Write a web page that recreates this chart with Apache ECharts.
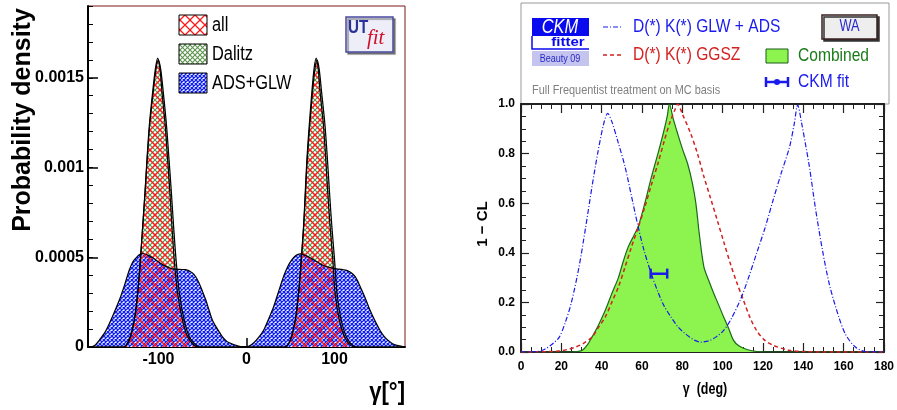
<!DOCTYPE html>
<html lang="en">
<head>
    <meta charset="utf-8">
    <title>gamma: UTfit / CKMfitter</title>
    <script src="https://cdn.jsdelivr.net/npm/echarts@6.0.0/dist/echarts.min.js"></script>
    <style>
        html, body { margin: 0; padding: 0; background: #fff; }
        #chart { width: 897px; height: 410px; }
    </style>
</head>
<body>
<div id="chart"></div>
<script type="text/javascript">
    // ---- left panel: UTfit probability density of gamma [deg] ----
    var leftXTicks = [-100, 0, 100];
    var leftYTicks = [0, 0.0005, 0.001, 0.0015];
    var leftYLabels = ['0', '0.0005', '0.001', '0.0015'];

    var allPdf = [
        [-180, 0], [-140, 0], [-133, 0.039e-3], [-127.3, 0.151e-3], [-123.5, 0.30e-3],
        [-120.5, 0.487e-3], [-117.9, 0.674e-3], [-115.3, 0.861e-3], [-113, 1.047e-3],
        [-110.4, 1.233e-3], [-106.6, 1.42e-3], [-103.5, 1.55e-3], [-100.9, 1.61e-3],
        [-98.3, 1.55e-3], [-96, 1.42e-3], [-92.3, 1.233e-3], [-89.6, 1.047e-3],
        [-87, 0.861e-3], [-84.7, 0.674e-3], [-82.1, 0.487e-3], [-78.3, 0.30e-3],
        [-72.7, 0.151e-3], [-67, 0.058e-3], [-59.5, 0.01e-3], [-55, 0],
        [44, 0], [49.7, 0.039e-3], [55.4, 0.151e-3], [59.1, 0.30e-3], [62.1, 0.487e-3],
        [64.8, 0.674e-3], [66.7, 0.861e-3], [68.6, 1.047e-3], [71.2, 1.233e-3],
        [74.2, 1.42e-3], [76.7, 1.55e-3], [79.1, 1.61e-3], [81.4, 1.55e-3],
        [83.6, 1.42e-3], [87.4, 1.233e-3], [90, 1.047e-3], [92.3, 0.861e-3],
        [94.9, 0.674e-3], [98, 0.487e-3], [100.6, 0.30e-3], [105.4, 0.151e-3],
        [111.9, 0.05e-3], [119.4, 0.005e-3], [125, 0], [180, 0]
    ];
    var dalitzPdf = [
        [-180, 0], [-140, 0], [-133.5, 0.04e-3], [-127.5, 0.15e-3], [-123.6, 0.30e-3],
        [-120.5, 0.487e-3], [-117.8, 0.674e-3], [-115.2, 0.861e-3], [-112.8, 1.047e-3],
        [-110, 1.233e-3], [-106, 1.42e-3], [-103, 1.54e-3], [-100.3, 1.60e-3],
        [-97.5, 1.55e-3], [-94.5, 1.42e-3], [-90.8, 1.233e-3], [-88, 1.047e-3],
        [-85.3, 0.861e-3], [-82.8, 0.674e-3], [-80, 0.487e-3], [-76.2, 0.30e-3],
        [-70.8, 0.151e-3], [-65, 0.058e-3], [-57.5, 0.01e-3], [-52, 0],
        [44, 0], [49.8, 0.04e-3], [55.5, 0.151e-3], [59.2, 0.30e-3], [62.3, 0.487e-3],
        [65, 0.674e-3], [67, 0.861e-3], [69, 1.047e-3], [71.8, 1.233e-3],
        [75, 1.42e-3], [77.5, 1.54e-3], [80, 1.60e-3], [82.5, 1.55e-3],
        [85.3, 1.42e-3], [89.2, 1.233e-3], [91.9, 1.047e-3], [94.3, 0.861e-3],
        [96.9, 0.674e-3], [100, 0.487e-3], [102.8, 0.30e-3], [107.5, 0.151e-3],
        [114, 0.05e-3], [121.5, 0.005e-3], [127, 0], [180, 0]
    ];
    var adsGlwPdf = [
        [-180, 0], [-178, 0], [-172, 0.01e-3], [-167, 0.039e-3], [-161, 0.08e-3],
        [-155.6, 0.133e-3], [-150, 0.195e-3], [-144.3, 0.263e-3], [-138.5, 0.345e-3],
        [-133, 0.43e-3], [-129, 0.475e-3], [-125.4, 0.497e-3], [-121.5, 0.515e-3],
        [-117.9, 0.521e-3], [-112, 0.512e-3], [-106.6, 0.497e-3], [-101, 0.478e-3],
        [-95.3, 0.459e-3], [-89.5, 0.445e-3], [-84, 0.435e-3], [-76, 0.432e-3],
        [-69, 0.431e-3], [-61.4, 0.413e-3], [-57.5, 0.39e-3], [-53.9, 0.357e-3],
        [-50, 0.31e-3], [-46.3, 0.263e-3], [-42.5, 0.205e-3], [-38.8, 0.151e-3],
        [-33, 0.10e-3], [-27.5, 0.058e-3], [-22, 0.03e-3], [-16.2, 0.017e-3],
        [-10, 0.006e-3], [-4.9, 0], [0, 0],
        [3, 0.005e-3], [8.3, 0.024e-3], [14, 0.055e-3], [19.6, 0.095e-3], [25, 0.155e-3],
        [30.9, 0.226e-3], [36.5, 0.31e-3], [42.2, 0.394e-3], [47, 0.45e-3],
        [51.6, 0.487e-3], [56, 0.51e-3], [61, 0.519e-3], [66, 0.512e-3],
        [72.3, 0.497e-3], [80, 0.475e-3], [87.4, 0.454e-3], [95, 0.442e-3],
        [102.4, 0.435e-3], [108, 0.432e-3], [113.8, 0.427e-3], [118.5, 0.415e-3],
        [123.2, 0.394e-3], [127, 0.36e-3], [130.7, 0.319e-3], [135.5, 0.265e-3],
        [140.1, 0.207e-3], [145.5, 0.15e-3], [151.4, 0.095e-3], [157, 0.055e-3],
        [162.7, 0.03e-3], [168, 0.013e-3], [174, 0.006e-3], [180, 0]
    ];

    // ---- right panel: CKMfitter 1 - CL of gamma [deg] ----
    var glwAdsCL = [
        [0, 0], [8, 0.002], [12, 0.012], [16, 0.035], [19, 0.06], [22, 0.12], [25, 0.2],
        [28.7, 0.34], [32, 0.5], [35.2, 0.666], [38, 0.8], [41, 0.92], [43, 0.962],
        [45, 0.93], [48, 0.85], [51.6, 0.747], [55, 0.62], [58.1, 0.505], [61, 0.41],
        [64.6, 0.316], [68, 0.24], [71, 0.185], [74.4, 0.141], [78, 0.1], [82, 0.07],
        [86, 0.048], [89, 0.04], [93, 0.045], [97, 0.062], [100.5, 0.087], [104, 0.13],
        [108.7, 0.209], [112, 0.28], [116.8, 0.397], [121, 0.5], [125, 0.612],
        [129, 0.72], [133.2, 0.828], [135.5, 0.92], [137.2, 0.996], [139, 0.93],
        [143, 0.747], [146, 0.58], [149.5, 0.41], [153, 0.27], [157.6, 0.141],
        [161, 0.07], [165.8, 0.02], [170.7, 0.002], [180, 0]
    ];
    var ggszCL = [
        [0, 0], [10, 0.001], [18.9, 0.004], [23, 0.01], [27.1, 0.02], [31, 0.035],
        [35.2, 0.06], [38.5, 0.1], [41.8, 0.141], [45, 0.2], [48.3, 0.262], [51.5, 0.34],
        [54.8, 0.424], [58, 0.5], [61.4, 0.585], [64.5, 0.67], [67.9, 0.76], [71, 0.85],
        [74, 0.93], [76.5, 0.98], [77.7, 1.0], [80, 0.96], [84.2, 0.88], [87.5, 0.8],
        [90.7, 0.707], [94, 0.62], [97.3, 0.532], [100.5, 0.445], [103.8, 0.357],
        [107, 0.28], [110.3, 0.209], [113.5, 0.14], [116.8, 0.087], [120.5, 0.05],
        [125, 0.027], [133, 0.007], [140, 0.002], [150, 0], [180, 0]
    ];
    var combinedCL = [
        [0, 0], [25, 0], [28, 0.002], [30.4, 0.007], [33, 0.03], [35.2, 0.06],
        [38.5, 0.11], [41.8, 0.168], [45, 0.235], [48.3, 0.30], [50.5, 0.36],
        [53.2, 0.424], [56, 0.47], [58.1, 0.505], [61.4, 0.6], [64.5, 0.7],
        [67.9, 0.8], [70.5, 0.88], [72.5, 0.95], [73.6, 1.0], [75.5, 0.94],
        [77.7, 0.88], [80, 0.82], [82.6, 0.76], [85, 0.68], [86.7, 0.6],
        [88.5, 0.47], [90.7, 0.343], [93, 0.29], [95.6, 0.236], [98, 0.19],
        [100.5, 0.141], [103, 0.095], [105.4, 0.047], [108, 0.025], [112, 0.01],
        [117, 0.002], [125, 0], [180, 0]
    ];
    var ckmFitBar = [[64.3, 0.316], [72.5, 0.316]];
    var ckmFitPoint = [[67.9, 0.316]];

    var sans = "'Liberation Sans', Arial, sans-serif";

    // cross-hatch fill like ROOT's fill styles
    function hatch(size, color, width, bg) {
        var c = document.createElement('canvas');
        c.width = c.height = size;
        var g = c.getContext('2d');
        if (bg) {
            g.fillStyle = bg;
            g.fillRect(0, 0, size, size);
        }
        g.strokeStyle = color;
        g.lineWidth = width;
        g.beginPath();
        g.moveTo(-1, -1); g.lineTo(size + 1, size + 1);
        g.moveTo(size + 1, -1); g.lineTo(-1, size + 1);
        g.stroke();
        return {image: c, repeat: 'repeat'};
    }

    // text squeezed horizontally (the original figure is narrower than Arial)
    function txt(x, y, text, font, fill, opts) {
        opts = opts || {};
        return {
            type: 'text', x: x, y: y,
            scaleX: opts.sx || 0.82,
            rotation: opts.rot || 0,
            style: {
                x: 0, y: 0, text: text, fill: fill, font: font,
                align: opts.align || 'left', verticalAlign: 'middle'
            }
        };
    }

    var redHatch = hatch(10, '#ff1a1a', 1.3);
    var greenHatch = hatch(5, '#5e9450', 1.1);
    var blueHatch = hatch(4, '#0d1fff', 1.25, '#ffffff');
    var redSwatch = hatch(10, '#ff1a1a', 1.3, '#ffffff');
    var greenSwatch = hatch(5, '#5e9450', 1.1, '#ffffff');

    var myChart = echarts.init(document.getElementById('chart'));

    var tickTxt = {color: '#000', fontFamily: sans, fontWeight: 'bold'};

    option = {
        animation: false,
        backgroundColor: '#fff',
        grid: [
            {left: 88, top: 6, right: 492, bottom: 63, show: true, borderColor: '#7a1a1a', borderWidth: 1},
            {left: 521, top: 104, right: 8, bottom: 58}
        ],
        xAxis: [
            {
                gridIndex: 0, type: 'value', min: -180, max: 180,
                axisLine: {onZero: false, lineStyle: {color: '#000', width: 2}},
                axisTick: {inside: true, length: 9, customValues: leftXTicks, lineStyle: {color: '#000', width: 1.5}},
                axisLabel: Object.assign({customValues: leftXTicks, fontSize: 16, margin: 5}, tickTxt),
                splitLine: {show: false}
            },
            {
                gridIndex: 1, type: 'value', min: 0, max: 180, interval: 20,
                axisLine: {onZero: false, lineStyle: {color: '#222', width: 2}},
                axisTick: {inside: true, length: 9, lineStyle: {color: '#222', width: 1.2}},
                minorTick: {show: true, splitNumber: 4, length: 5, lineStyle: {color: '#222', width: 1}},
                axisLabel: Object.assign({fontSize: 12, margin: 9}, tickTxt),
                splitLine: {show: false}
            },
            {
                gridIndex: 1, type: 'value', position: 'top', min: 0, max: 180, interval: 20,
                axisLine: {onZero: false, lineStyle: {color: '#222', width: 2}},
                axisTick: {inside: true, length: 9, lineStyle: {color: '#222', width: 1.2}},
                minorTick: {show: true, splitNumber: 4, length: 5, lineStyle: {color: '#222', width: 1}},
                axisLabel: {show: false},
                splitLine: {show: false}
            }
        ],
        yAxis: [
            {
                gridIndex: 0, type: 'value', position: 'left', min: 0, max: 0.0019,
                axisLine: {onZero: false, lineStyle: {color: '#000', width: 2}},
                axisTick: {inside: true, length: 10, customValues: leftYTicks, lineStyle: {color: '#000', width: 1.5}},
                axisLabel: Object.assign({
                    customValues: leftYTicks, fontSize: 16, margin: 4,
                    formatter: function (v) { return leftYLabels[Math.round(v / 0.0005)]; }
                }, tickTxt),
                splitLine: {show: false}
            },
            {
                // minor ticks of the left panel
                gridIndex: 0, type: 'value', position: 'left', min: 0, max: 0.0019, interval: 0.0001,
                axisLine: {show: false, onZero: false},
                axisTick: {inside: true, length: 5, lineStyle: {color: '#000', width: 1}},
                axisLabel: {show: false},
                splitLine: {show: false}
            },
            {
                gridIndex: 1, type: 'value', position: 'left', min: 0, max: 1, interval: 0.2,
                axisLine: {onZero: false, lineStyle: {color: '#222', width: 2}},
                axisTick: {inside: true, length: 8, lineStyle: {color: '#222', width: 1.2}},
                minorTick: {show: true, splitNumber: 4, length: 5, lineStyle: {color: '#222', width: 1}},
                axisLabel: Object.assign({
                    fontSize: 12, margin: 6,
                    formatter: function (v) { return v.toFixed(1); }
                }, tickTxt),
                splitLine: {show: false}
            },
            {
                gridIndex: 1, type: 'value', position: 'right', min: 0, max: 1, interval: 0.2,
                axisLine: {onZero: false, lineStyle: {color: '#222', width: 2}},
                axisTick: {inside: true, length: 8, lineStyle: {color: '#222', width: 1.2}},
                minorTick: {show: true, splitNumber: 4, length: 5, lineStyle: {color: '#222', width: 1}},
                axisLabel: {show: false},
                splitLine: {show: false}
            }
        ],
        series: [
            {
                name: 'Dalitz', type: 'line', xAxisIndex: 0, yAxisIndex: 0, data: dalitzPdf,
                smooth: 0.3, symbol: 'none',
                lineStyle: {color: '#000', width: 1.2},
                areaStyle: {color: greenHatch, opacity: 1}
            },
            {
                name: 'ADS+GLW', type: 'line', xAxisIndex: 0, yAxisIndex: 0, data: adsGlwPdf,
                smooth: 0.3, symbol: 'none',
                lineStyle: {color: '#000', width: 1.2},
                areaStyle: {color: blueHatch, opacity: 1}
            },
            {
                name: 'all', type: 'line', xAxisIndex: 0, yAxisIndex: 0, data: allPdf,
                smooth: 0.3, symbol: 'none',
                lineStyle: {color: '#000', width: 1.2},
                areaStyle: {color: redHatch, opacity: 1}
            },
            {
                name: 'Combined', type: 'line', xAxisIndex: 1, yAxisIndex: 2, data: combinedCL,
                smooth: 0.3, symbol: 'none',
                lineStyle: {color: '#1a6a1a', width: 1.2},
                areaStyle: {color: '#8cf34f', opacity: 1}
            },
            {
                name: 'D(*) K(*) GGSZ', type: 'line', xAxisIndex: 1, yAxisIndex: 2, data: ggszCL,
                smooth: 0.3, symbol: 'none',
                lineStyle: {color: '#d42020', width: 1.5, type: [4, 3]}
            },
            {
                name: 'D(*) K(*) GLW + ADS', type: 'line', xAxisIndex: 1, yAxisIndex: 2, data: glwAdsCL,
                smooth: 0.3, symbol: 'none',
                lineStyle: {color: '#1a1aee', width: 1.2, type: [5, 2, 1, 2]}
            },
            {
                name: 'CKM fit', type: 'line', xAxisIndex: 1, yAxisIndex: 2, data: ckmFitBar,
                symbol: 'rect', symbolSize: [2.5, 10], itemStyle: {color: '#1a1aee'},
                lineStyle: {color: '#1a1aee', width: 2.5}
            },
            {
                name: 'CKM fit point', type: 'scatter', xAxisIndex: 1, yAxisIndex: 2, data: ckmFitPoint,
                symbolSize: 7, itemStyle: {color: '#1a1aee'}
            }
        ],
        graphic: [
            // left legend
            {type: 'rect', shape: {x: 179, y: 15, width: 28, height: 20}, style: {fill: redSwatch, stroke: '#000', lineWidth: 1}},
            txt(212, 25, 'all', '20px ' + sans, '#000'),
            {type: 'rect', shape: {x: 179, y: 44, width: 28, height: 20}, style: {fill: greenSwatch, stroke: '#000', lineWidth: 1}},
            txt(212, 54, 'Dalitz', '20px ' + sans, '#000'),
            {type: 'rect', shape: {x: 179, y: 73, width: 28, height: 20}, style: {fill: blueHatch, stroke: '#000', lineWidth: 1}},
            txt(212, 83, 'ADS+GLW', '20px ' + sans, '#000'),
            // UTfit logo
            {type: 'rect', shape: {x: 346, y: 17, width: 47, height: 35}, style: {fill: '#eeeef8', stroke: '#4848a0', lineWidth: 1.5, shadowColor: 'rgba(0,0,0,0.4)', shadowOffsetX: 2, shadowOffsetY: 2, shadowBlur: 1}},
            txt(348, 28, 'UT', 'bold 19px ' + sans, '#28329a', {sx: 0.8}),
            txt(367, 38, 'fit', 'italic 22px "Liberation Serif", serif', '#d0102a', {sx: 0.95}),
            // left axis titles
            {type: 'text', rotation: Math.PI / 2, x: 23, y: 120, style: {x: 0, y: 0, text: 'Probability density', fill: '#000', font: 'bold 25px ' + sans, align: 'center', verticalAlign: 'middle'}},
            txt(405, 393, 'γ[°]', 'bold 26px ' + sans, '#000', {align: 'right', sx: 0.85}),

            // right panel frame above the plot
            {type: 'rect', shape: {x: 521, y: 3, width: 368, height: 101}, style: {fill: 'none', stroke: '#999', lineWidth: 1}},
            // CKMfitter logo
            {type: 'rect', shape: {x: 532, y: 18, width: 57, height: 18}, style: {fill: '#0a0aee'}},
            txt(560, 27, 'CKM', 'italic 20px ' + sans, '#fff', {align: 'center'}),
            {type: 'polyline', shape: {points: [[532, 36], [532, 49], [589, 49]]}, style: {stroke: '#0a0aee', lineWidth: 1.5, fill: 'none'}},
            txt(568, 43, 'fitter', 'bold 12px ' + sans, '#0a0aee', {align: 'center', sx: 1.25}),
            {type: 'rect', shape: {x: 532, y: 51, width: 57, height: 15}, style: {fill: '#c4c4ee'}},
            txt(560, 58.5, 'Beauty 09', '11px ' + sans, '#2828c8', {align: 'center'}),
            // right legend
            {type: 'line', shape: {x1: 603, y1: 27, x2: 623, y2: 27}, style: {stroke: '#1a1aee', lineWidth: 1.2, lineDash: [5, 2, 1, 2]}},
            txt(633, 27, 'D(*) K(*) GLW + ADS', '19px ' + sans, '#1a1aee'),
            {type: 'line', shape: {x1: 603, y1: 55, x2: 623, y2: 55}, style: {stroke: '#d42020', lineWidth: 1.5, lineDash: [4, 3]}},
            txt(633, 55, 'D(*) K(*) GGSZ', '19px ' + sans, '#d42020'),
            {type: 'rect', shape: {x: 822, y: 15, width: 55, height: 24}, style: {fill: '#eeeeee', stroke: '#3a2020', lineWidth: 1.5, shadowColor: '#333', shadowOffsetX: 2, shadowOffsetY: 2}},
            txt(849.5, 27, 'WA', '16px ' + sans, '#2a2acc', {align: 'center', sx: 0.8}),
            {type: 'rect', shape: {x: 766, y: 49, width: 22, height: 14}, style: {fill: '#8cf34f', stroke: '#1a5a1a', lineWidth: 1}},
            txt(798, 56, 'Combined', '19px ' + sans, '#1a7a1a'),
            {type: 'line', shape: {x1: 766, y1: 82, x2: 788, y2: 82}, style: {stroke: '#1a1aee', lineWidth: 2.5}},
            {type: 'line', shape: {x1: 766, y1: 77, x2: 766, y2: 87}, style: {stroke: '#1a1aee', lineWidth: 2.5}},
            {type: 'line', shape: {x1: 788, y1: 77, x2: 788, y2: 87}, style: {stroke: '#1a1aee', lineWidth: 2.5}},
            {type: 'circle', shape: {cx: 777, cy: 82, r: 3}, style: {fill: '#1a1aee'}},
            txt(798, 82, 'CKM fit', '19px ' + sans, '#1a1aee'),
            txt(532, 90, 'Full Frequentist treatment on MC basis', '13px ' + sans, '#808080', {sx: 0.84}),
            // right axis titles
            {type: 'text', rotation: Math.PI / 2, x: 483, y: 224, style: {x: 0, y: 0, text: '1 − CL', fill: '#000', font: 'bold 15px ' + sans, align: 'center', verticalAlign: 'middle'}},
            txt(705, 390, 'γ  (deg)', 'bold 16px ' + sans, '#000', {align: 'center', sx: 0.78})
        ]
    };

    myChart.setOption(option);
</script>
</body>
</html>
